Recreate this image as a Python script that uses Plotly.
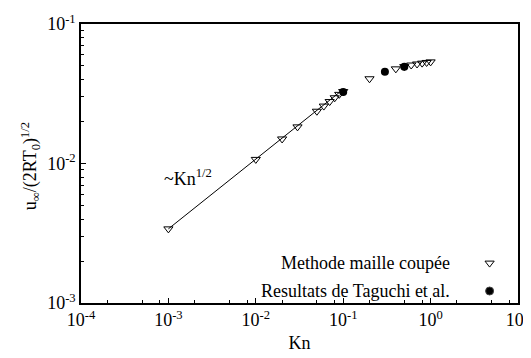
import plotly.graph_objects as go
import numpy as np

# data
kn_cut = [0.001, 0.01, 0.02, 0.03, 0.05, 0.06, 0.07, 0.08, 0.09, 0.1,
          0.2, 0.4, 0.5, 0.6, 0.7, 0.8, 0.9, 1.0]
u_cut = [0.0034, 0.0107, 0.0150, 0.0183, 0.0237, 0.0258, 0.0278, 0.0296, 0.0313, 0.0328,
         0.0405, 0.0477, 0.0495, 0.0508, 0.0517, 0.0524, 0.0530, 0.0535]
kn_taguchi = [0.1, 0.3, 0.5]
u_taguchi = [0.0326, 0.0454, 0.0493]
kn_fit = [0.001, 0.1]
u_fit = [0.0034, 0.034]

legend_names = ["Methode maille coupée", "Resultats de Taguchi et al."]
x_ticks = [1e-4, 1e-3, 1e-2, 1e-1, 1e0, 1e1]
x_ticktext = ["10<sup>-4</sup>", "10<sup>-3</sup>", "10<sup>-2</sup>", "10<sup>-1</sup>",
              "10<sup>0</sup>", "10<sup>1</sup>"]
y_ticks = [1e-3, 1e-2, 1e-1]
y_ticktext = ["10<sup>-3</sup>", "10<sup>-2</sup>", "10<sup>-1</sup>"]

FONT = "Liberation Serif"
FS = 18

x_minor = [m * 10.0 ** e for e in range(-4, 1) for m in (2, 5, 8)]
y_minor = [m * 10.0 ** e for e in range(-3, -1) for m in range(2, 10)]

fig = go.Figure()
fig.add_trace(go.Scatter(x=kn_fit, y=u_fit, mode="lines",
                         line=dict(color="black", width=1), showlegend=False))
fig.add_trace(go.Scatter(x=kn_cut, y=u_cut, mode="markers",
                         marker=dict(symbol="triangle-down-open", size=8,
                                     color="black", line=dict(width=1)),
                         showlegend=False))
fig.add_trace(go.Scatter(x=kn_taguchi, y=u_taguchi, mode="markers",
                         marker=dict(symbol="circle", size=8, color="black"),
                         showlegend=False))

# legend keys on an overlay axis (paper-like 0..1)
leg_y = [0.143, 0.043]
fig.add_trace(go.Scatter(x=[0.935, 0.935], y=leg_y, mode="markers",
                         marker=dict(symbol=["triangle-down-open", "circle"], size=8,
                                     color="black", line=dict(width=1)),
                         xaxis="x2", yaxis="y2", showlegend=False))
for name, yy in zip(legend_names, leg_y):
    fig.add_annotation(text=name, x=0.850, y=yy, xref="paper", yref="paper",
                       xanchor="right", yanchor="middle", showarrow=False,
                       font=dict(family=FONT, size=FS, color="black"))

fig.add_annotation(text="~Kn<sup>1/2</sup>", x=np.log10(0.00085), y=np.log10(0.0080),
                   xref="x", yref="y", xanchor="left", yanchor="middle",
                   showarrow=False, font=dict(family=FONT, size=FS, color="black"))

# y axis title
fig.add_annotation(text="u<sub>∞</sub>/(2RT<sub>0</sub>)<sup>1/2</sup>",
                   x=-0.117, y=0.49, xref="paper", yref="paper", textangle=-90,
                   xanchor="center", yanchor="middle", showarrow=False,
                   font=dict(family=FONT, size=FS, color="black"))

axis_common = dict(showline=True, linecolor="black", linewidth=1.5, mirror=True,
                   ticks="inside", ticklen=5, tickcolor="black", showgrid=False,
                   zeroline=False, automargin=False, ticklabeloverflow="allow",
                   tickfont=dict(family=FONT, size=FS, color="black"))

# the page body adds an 8px offset, so the figure is sized to fit the window
fig.update_layout(
    width=523, height=350,
    margin=dict(l=73, r=13, t=16, b=55),
    paper_bgcolor="white", plot_bgcolor="white",
    font=dict(family=FONT, size=FS, color="black"),
    xaxis=dict(type="log", range=[-4, 1], tickvals=x_ticks, ticktext=x_ticktext,
               title=dict(text="Kn", font=dict(family=FONT, size=FS), standoff=7),
               minor=dict(tickvals=x_minor, ticks="inside", ticklen=3, tickcolor="black"),
               **axis_common),
    yaxis=dict(type="log", range=[-3, -1], tickvals=y_ticks, ticktext=y_ticktext,
               minor=dict(tickvals=y_minor, ticks="inside", ticklen=3, tickcolor="black"),
               **axis_common),
    xaxis2=dict(range=[0, 1], overlaying="x", visible=False),
    yaxis2=dict(range=[0, 1], overlaying="y", visible=False),
)

fig.write_html("out.html")
